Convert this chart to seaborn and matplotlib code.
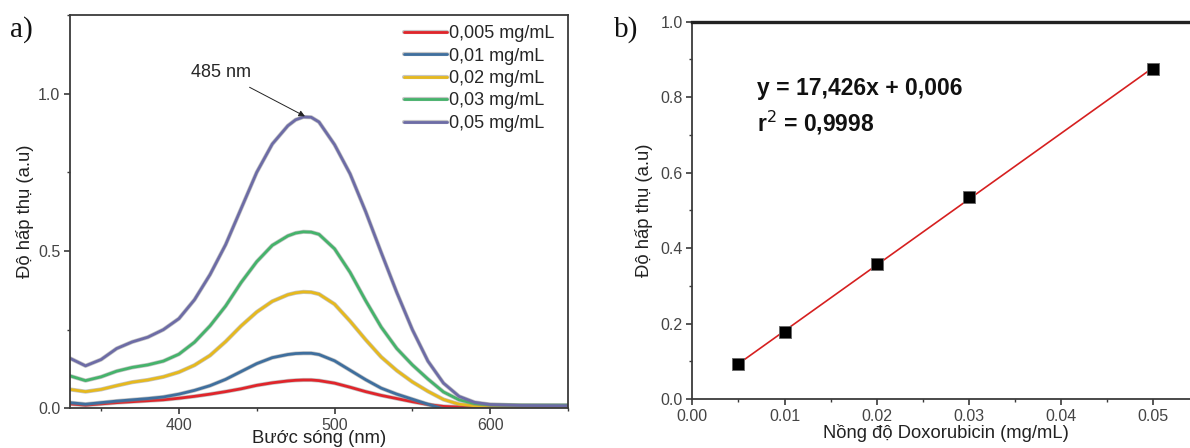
import numpy as np
import pandas as pd
import matplotlib
matplotlib.use("Agg")
import matplotlib.pyplot as plt
import matplotlib.patheffects as pe
from matplotlib.ticker import MultipleLocator
import seaborn as sns

# ---------------- data ----------------
wavelength = [330, 340, 350, 360, 370, 380, 390, 400, 410, 420, 430, 440, 450,
              460, 470, 475, 480, 485, 490, 500, 510, 520, 530, 540, 550, 560,
              570, 580, 590, 600, 620, 650]

abs_0005 = [0.014, 0.010, 0.014, 0.018, 0.021, 0.024, 0.027, 0.032, 0.038, 0.045,
            0.053, 0.062, 0.073, 0.081, 0.087, 0.089, 0.090, 0.090, 0.088, 0.080,
            0.067, 0.053, 0.041, 0.031, 0.021, 0.012, 0.006, 0.004, 0.003, 0.002,
            0.002, 0.002]
abs_001 = [0.018, 0.013, 0.018, 0.023, 0.027, 0.031, 0.036, 0.045, 0.057, 0.072,
           0.092, 0.117, 0.142, 0.161, 0.171, 0.174, 0.175, 0.175, 0.171, 0.151,
           0.121, 0.091, 0.064, 0.045, 0.029, 0.013, -0.002, -0.004, -0.004,
           -0.003, -0.003, -0.003]
abs_002 = [0.060, 0.053, 0.060, 0.072, 0.083, 0.090, 0.100, 0.115, 0.137, 0.168,
           0.212, 0.262, 0.306, 0.340, 0.361, 0.367, 0.370, 0.369, 0.363, 0.331,
           0.277, 0.218, 0.163, 0.120, 0.084, 0.054, 0.028, 0.013, 0.008, 0.006,
           0.005, 0.005]
abs_003 = [0.103, 0.088, 0.100, 0.118, 0.130, 0.138, 0.150, 0.172, 0.210, 0.262,
           0.325, 0.400, 0.466, 0.518, 0.548, 0.557, 0.561, 0.560, 0.553, 0.507,
           0.432, 0.342, 0.258, 0.190, 0.138, 0.093, 0.052, 0.027, 0.015, 0.011,
           0.010, 0.010]
abs_005 = [0.159, 0.135, 0.155, 0.190, 0.211, 0.226, 0.250, 0.285, 0.345, 0.425,
           0.520, 0.635, 0.750, 0.840, 0.898, 0.917, 0.926, 0.925, 0.910, 0.838,
           0.745, 0.625, 0.495, 0.368, 0.250, 0.150, 0.080, 0.038, 0.019, 0.012,
           0.009, 0.008]

series_labels = ["0,005 mg/mL", "0,01 mg/mL", "0,02 mg/mL", "0,03 mg/mL", "0,05 mg/mL"]
series_values = [abs_0005, abs_001, abs_002, abs_003, abs_005]
series_colors = ["#e0252b", "#3f6f9e", "#e6b91e", "#45b36b", "#6d6ca6"]

peak_label = "485 nm"
peak_wavelength = 481
peak_absorbance = 0.928

conc = [0.005, 0.01, 0.02, 0.03, 0.05]
conc_abs = [0.092, 0.177, 0.358, 0.535, 0.875]
equation_line1 = "y = 17,426x + 0,006"
equation_line2 = "r$^{2}$ = 0,9998"

# ---------------- style ----------------
sns.set_theme(style="ticks")
plt.rcParams["font.family"] = ["Liberation Sans", "DejaVu Sans"]
plt.rcParams["axes.linewidth"] = 1.3

fig = plt.figure(figsize=(11.9, 4.48), dpi=100)
axA = fig.add_axes([0.0588, 0.0886, 0.4185, 0.8779])
axB = fig.add_axes([0.5818, 0.1094, 0.4261, 0.8422])

tick_color = "#444444"
spine_color = "#3a3a3a"
outline = [pe.Stroke(linewidth=3.0, foreground="#808080", alpha=0.45), pe.Normal()]

# ---------------- panel a ----------------
rows = []
for lab, vals in zip(series_labels, series_values):
    for w, v in zip(wavelength, vals):
        rows.append({"wl": w, "A": v, "c": lab})
df = pd.DataFrame(rows)

sns.lineplot(data=df, x="wl", y="A", hue="c", hue_order=series_labels,
             palette=series_colors, linewidth=2.0, ax=axA, legend=False,
             sort=False)
for ln in axA.lines:
    ln.set_path_effects(outline)
    ln.set_solid_joinstyle("round")
    ln.set_solid_capstyle("round")

axA.set_xlim(330, 650)
axA.set_ylim(0, 1.25)
axA.xaxis.set_major_locator(MultipleLocator(100))
axA.xaxis.set_minor_locator(MultipleLocator(50))
axA.yaxis.set_minor_locator(MultipleLocator(0.25))
axA.set_yticks([0.0, 0.5, 1.0])
axA.set_yticklabels(["0.0", "0.5", "1.0"])
axA.set_xlabel("Bước sóng (nm)", fontsize=13.3, labelpad=-2)
axA.set_ylabel("Độ hấp thụ (a.u)", fontsize=13.3, labelpad=3)

handles = [plt.Line2D([], [], color=c, linewidth=2.0, path_effects=outline)
           for c in series_colors]
axA.legend(handles, series_labels, loc="upper left", bbox_to_anchor=(0.67, 0.974),
           frameon=False, fontsize=13, handlelength=2.4, handletextpad=0.12,
           labelspacing=0.3, borderpad=0, borderaxespad=0)

axA.annotate(peak_label, xy=(peak_wavelength, peak_absorbance),
             xytext=(427, 1.068), textcoords="data", ha="center", va="center",
             fontsize=13,
             arrowprops=dict(arrowstyle="-|>", color="#222222", lw=0.7,
                             mutation_scale=9, shrinkA=5, shrinkB=0))

# ---------------- panel b ----------------
dfB = pd.DataFrame({"conc": conc, "abs": conc_abs})
sns.regplot(data=dfB, x="conc", y="abs", ci=None, ax=axB, marker="s",
            scatter_kws=dict(s=85, color="black", edgecolors="#666666", alpha=1.0,
                             linewidths=0.6, zorder=3),
            line_kws=dict(color="#d62020", linewidth=1.2, zorder=2))

axB.set_xlim(0, 0.055)
axB.set_ylim(0, 1.0)
axB.xaxis.set_minor_locator(MultipleLocator(0.005))
axB.yaxis.set_minor_locator(MultipleLocator(0.1))
axB.set_xticks([0.0, 0.01, 0.02, 0.03, 0.04, 0.05])
axB.set_xticklabels(["0.00", "0.01", "0.02", "0.03", "0.04", "0.05"])
axB.set_yticks([0.0, 0.2, 0.4, 0.6, 0.8, 1.0])
axB.set_yticklabels(["0.0", "0.2", "0.4", "0.6", "0.8", "1.0"])
axB.set_xlabel("Nồng độ Doxorubicin (mg/mL)", fontsize=13.2, labelpad=0)
axB.set_ylabel("Độ hấp thụ (a.u)", fontsize=13.3, labelpad=5)

axB.text(0.0070, 0.824, equation_line1, fontsize=16.5, fontweight="bold",
         ha="left", va="center", color="#111111")
axB.text(0.0070, 0.733, equation_line2, fontsize=16.5, fontweight="bold",
         ha="left", va="center", color="#111111")

for ax in (axA, axB):
    for s in ax.spines.values():
        s.set_visible(True)
        s.set_color(spine_color)
    ax.tick_params(which="major", direction="out", length=4, width=1.2,
                   colors=spine_color, labelcolor=tick_color, labelsize=11.5, pad=3)
    ax.tick_params(which="minor", direction="out", length=2.5, width=1.0,
                   colors=spine_color)
    ax.xaxis.label.set_color("#222222")
    ax.yaxis.label.set_color("#222222")
axB.spines["top"].set_linewidth(2.4)
axB.spines["top"].set_color("#222222")

fig.text(0.008, 0.935, "a)", fontsize=21, family=["Liberation Serif", "DejaVu Serif"],
         ha="left", va="center", color="#111111")
fig.text(0.516, 0.935, "b)", fontsize=21, family=["Liberation Serif", "DejaVu Serif"],
         ha="left", va="center", color="#111111")

fig.savefig("out.png", dpi=100)
